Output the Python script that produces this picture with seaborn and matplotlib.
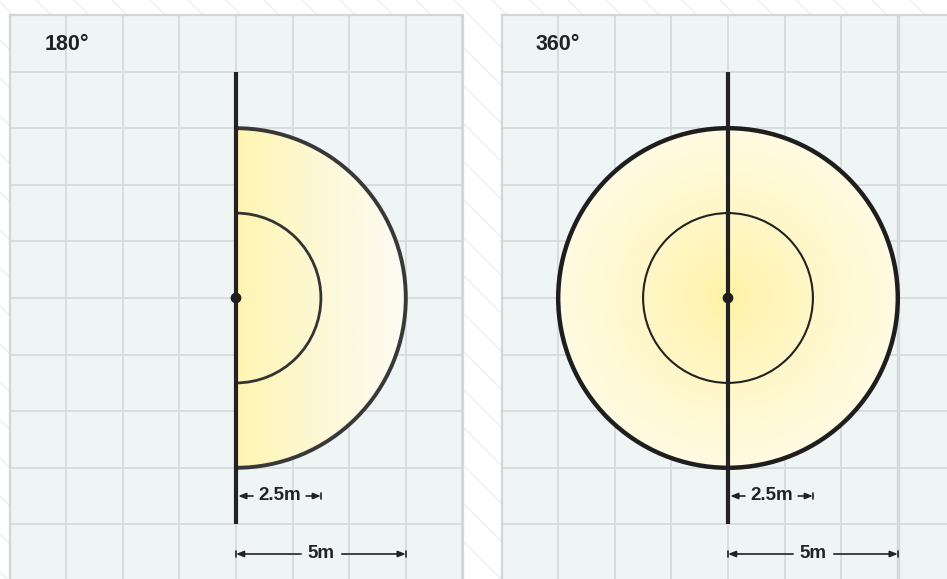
import numpy as np
import matplotlib
matplotlib.use("Agg")
import matplotlib.pyplot as plt
import seaborn as sns
import pandas as pd
from matplotlib.patches import Wedge, Circle, Arc
from matplotlib.colors import LinearSegmentedColormap

# ---- data ----
titles = ["180°", "360°"]
angles = [180, 360]
radii_m = [2.5, 5.0]          # inner, outer detection radius (m)
dim_labels = ["2.5m", "5m"]
cell_m = 5.0 / 3.0            # one grid cell in metres
pole_half_cells = 4           # pole reaches 4 cells up/down

sns.set_theme(style="white")
plt.rcParams["font.family"] = ["Liberation Sans", "DejaVu Sans"]

W, H, DPI = 947, 579, 100
fig = plt.figure(figsize=(W / DPI, H / DPI), dpi=DPI)
fig.patch.set_facecolor("white")

# background with faint diagonal lines
bg = fig.add_axes([0, 0, 1, 1], zorder=0)
bg.set_xlim(0, W)
bg.set_ylim(H, 0)
bg.axis("off")
for b in range(-W - 40, H + 40, 38):
    bg.plot([0, W], [b + 1, b + 1 + W], color="#F1F1F1", lw=1.2, solid_capstyle="butt")

PX = 56.6                      # pixels per cell
cx_px = [236, 728]
cy_px = 298
left_px = [10, 502]
right_px = [463, 947]
top_px = 15

c = cell_m
for i in range(2):
    x0 = left_px[i]
    x1 = right_px[i]
    ax = fig.add_axes([x0 / W, 0, (x1 - x0) / W, (H - top_px) / H], zorder=1)
    ax.set_facecolor("#EFF4F5")
    xmin = (x0 - cx_px[i]) / PX * c
    xmax = (x1 - cx_px[i]) / PX * c
    ymax = (cy_px - top_px) / PX * c
    ymin = (cy_px - H) / PX * c
    ax.set_xlim(xmin, xmax)
    ax.set_ylim(ymin, ymax)
    ax.set_xticks([])
    ax.set_yticks([])
    for s in ["top", "left", "right"]:
        ax.spines[s].set_color("#D2D6D7")
        ax.spines[s].set_linewidth(1.6)
    ax.spines["bottom"].set_visible(False)
    if i == 1:
        ax.spines["right"].set_visible(False)

    # grid
    for k in range(-4, 5):
        xv = k * c
        if xmin < xv < xmax:
            lw = 2.4 if (i == 1 and k == 3) else 1.2
            ax.axvline(xv, color="#D5D9DA", lw=lw, zorder=1)
    for k in range(-5, 6):
        yv = k * c
        if ymin < yv < ymax:
            ax.axhline(yv, color="#D5D9DA", lw=1.2, zorder=1)

    R = radii_m[1]
    r = radii_m[0]
    n = 400
    if angles[i] == 180:
        clip = Wedge((0, 0), R, -90, 90, transform=ax.transData, facecolor="none", edgecolor="none")
        ax.add_patch(clip)
        grad = np.tile(np.linspace(0, 1, n), (n, 1))
        cmap = LinearSegmentedColormap.from_list("g", ["#FFF5B2", "#FDF8D6", "#FDFCF4"])
        im = ax.imshow(grad, extent=(0, R, -R, R), cmap=cmap, origin="lower",
                       aspect="auto", zorder=2, interpolation="bilinear")
        im.set_clip_path(clip)
        ax.add_patch(Arc((0, 0), 2 * R, 2 * R, theta1=-90, theta2=90, color="#383838", lw=2.8, zorder=4))
        ax.add_patch(Arc((0, 0), 2 * r, 2 * r, theta1=-90, theta2=90, color="#333333", lw=2.0, zorder=4))
    else:
        clip = Circle((0, 0), R, transform=ax.transData, facecolor="none", edgecolor="none")
        ax.add_patch(clip)
        g = np.linspace(-1, 1, n)
        X, Y = np.meshgrid(g, g)
        grad = np.clip(np.sqrt(X ** 2 + Y ** 2), 0, 1)
        cmap = LinearSegmentedColormap.from_list("g", ["#FFF3A8", "#FFF7C8", "#FFFBE2"])
        im = ax.imshow(grad, extent=(-R, R, -R, R), cmap=cmap, origin="lower",
                       aspect="auto", zorder=2, interpolation="bilinear")
        im.set_clip_path(clip)
        ax.add_patch(Circle((0, 0), R, fill=False, edgecolor="#1E1E1E", lw=3.2, zorder=4))
        ax.add_patch(Circle((0, 0), r, fill=False, edgecolor="#222222", lw=1.5, zorder=4))

    # pole
    ph = pole_half_cells * c
    ax.plot([0, 0], [-ph, ph], color="#222222", lw=3.0, zorder=5, solid_capstyle="butt")
    sns.scatterplot(x=[0], y=[0], ax=ax, s=60, color="#1E1E1E", edgecolor="none", zorder=6, legend=False)

    # title
    tx = (45 + (0 if i == 0 else 491) - cx_px[i]) / PX * c
    ty = (cy_px - 44) / PX * c
    ax.text(tx, ty, titles[i], fontsize=15.5, fontweight="bold", color="#222222",
            ha="left", va="center", zorder=7)

    arrow_kw = dict(arrowstyle="-|>,head_length=0.5,head_width=0.2", color="#222222",
                    lw=1.2, shrinkA=0, shrinkB=0, mutation_scale=9)
    bar_h = 0.055 * c

    # 2.5m dimension
    y1 = (cy_px - 496) / PX * c
    ax.annotate("", xy=(0.04 * c, y1), xytext=(0.3 * c, y1), arrowprops=arrow_kw, zorder=7)
    ax.annotate("", xy=(r, y1), xytext=(1.24 * c, y1), arrowprops=arrow_kw, zorder=7)
    ax.plot([r, r], [y1 - bar_h, y1 + bar_h], color="#222222", lw=1.2, zorder=7)
    ax.text(0.77 * c, y1, dim_labels[0], fontsize=13.5, fontweight="bold", color="#222222",
            ha="center", va="center", zorder=7)

    # 5m dimension
    y2 = (cy_px - 554) / PX * c
    ax.annotate("", xy=(0, y2), xytext=(1.15 * c, y2), arrowprops=arrow_kw, zorder=7)
    ax.annotate("", xy=(R, y2), xytext=(1.87 * c, y2), arrowprops=arrow_kw, zorder=7)
    for xb in (0, R):
        ax.plot([xb, xb], [y2 - bar_h, y2 + bar_h], color="#222222", lw=1.2, zorder=7)
    ax.text(1.5 * c, y2, dim_labels[1], fontsize=13.5, fontweight="bold", color="#222222",
            ha="center", va="center", zorder=7)

fig.savefig("out.png", dpi=DPI, facecolor="white")
